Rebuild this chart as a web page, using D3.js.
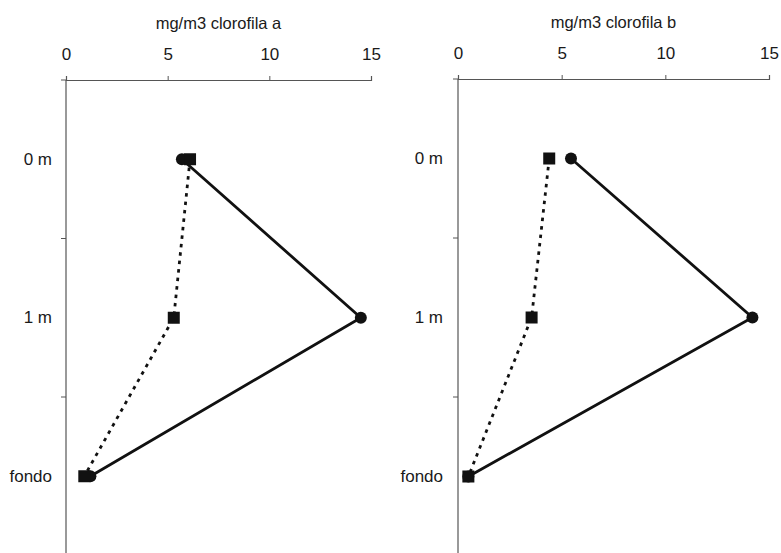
<!DOCTYPE html>
<html>
<head>
<meta charset="utf-8">
<script src="https://cdn.jsdelivr.net/npm/d3@7"></script>
<style>
  html, body { margin: 0; padding: 0; background: #fff; }
  svg { display: block; }
  text { font-family: "Liberation Sans", Arial, sans-serif; fill: #1a1a1a; }
</style>
</head>
<body>
<svg id="chart" width="781" height="553"></svg>
<script>
// ---- data ----
const depths = ["0 m", "1 m", "fondo"];
const xTicks = [0, 5, 10, 15];
const titleA = "mg/m3 clorofila a";
const titleB = "mg/m3 clorofila b";
// solid line, circle markers
const chlA_circle = [5.7, 14.5, 1.2];
// dotted line, square markers
const chlA_square = [6.1, 5.3, 0.9];
const chlB_circle = [5.45, 14.2, 0.5];
const chlB_square = [4.4, 3.55, 0.5];

const svg = d3.select("#chart");

const panels = [
  { title: titleA, circle: chlA_circle, square: chlA_square, x0: 66, x1: 371, y0: 80, step: 158.5, labelGap: 14 },
  { title: titleB, circle: chlB_circle, square: chlB_square, x0: 458, x1: 769, y0: 79, step: 159, labelGap: 15 }
];

const FS = "17px";

panels.forEach(p => {
  const g = svg.append("g");
  const x = d3.scaleLinear().domain([0, 15]).range([p.x0, p.x1]);
  const y = d3.scaleBand().domain(depths).range([p.y0, p.y0 + p.step * depths.length]).padding(0);
  const yc = d => y(d) + y.bandwidth() / 2;

  // top axis
  const xa = g.append("g").attr("transform", `translate(0,${p.y0})`)
    .call(d3.axisTop(x).tickValues(xTicks).tickSize(4).tickPadding(16).tickFormat(d3.format("d")));
  xa.select(".domain").attr("stroke", "#555").attr("stroke-width", 1.2);
  xa.selectAll(".tick line").attr("stroke", "#555");
  xa.selectAll("text").style("font-size", FS).attr("fill", "#1a1a1a");

  // title
  g.append("text")
    .attr("x", (p.x0 + p.x1) / 2).attr("y", p.y0 - 51)
    .attr("text-anchor", "middle")
    .style("font-size", "16.5px")
    .text(p.title);

  // left axis: line + boundary ticks
  g.append("line")
    .attr("x1", p.x0).attr("x2", p.x0)
    .attr("y1", p.y0).attr("y2", y.range()[1])
    .attr("stroke", "#555").attr("stroke-width", 1.2);
  const bounds = depths.map(d => y(d)).concat([y.range()[1]]);
  g.selectAll(".bt").data(bounds).join("line")
    .attr("x1", p.x0 - 5).attr("x2", p.x0)
    .attr("y1", d => d).attr("y2", d => d)
    .attr("stroke", "#555").attr("stroke-width", 1);
  g.selectAll(".cl").data(depths).join("text")
    .attr("x", p.x0 - p.labelGap).attr("y", d => yc(d))
    .attr("text-anchor", "end").attr("dominant-baseline", "central")
    .style("font-size", FS)
    .text(d => d);

  const line = d3.line().x(d => x(d.v)).y(d => yc(d.c));
  const sq = depths.map((c, i) => ({ c, v: p.square[i] }));
  const ci = depths.map((c, i) => ({ c, v: p.circle[i] }));

  g.append("path").datum(sq).attr("d", line)
    .attr("fill", "none").attr("stroke", "#111").attr("stroke-width", 2.8)
    .attr("stroke-dasharray", "3.5,5");
  g.append("path").datum(ci).attr("d", line)
    .attr("fill", "none").attr("stroke", "#111").attr("stroke-width", 2.8);

  g.selectAll(".ci").data(ci).join("circle")
    .attr("cx", d => x(d.v)).attr("cy", d => yc(d.c)).attr("r", 6)
    .attr("fill", "#111");
  g.selectAll(".sq").data(sq).join("rect")
    .attr("x", d => x(d.v) - 6).attr("y", d => yc(d.c) - 6)
    .attr("width", 12).attr("height", 12)
    .attr("fill", "#111");
});
</script>
</body>
</html>
